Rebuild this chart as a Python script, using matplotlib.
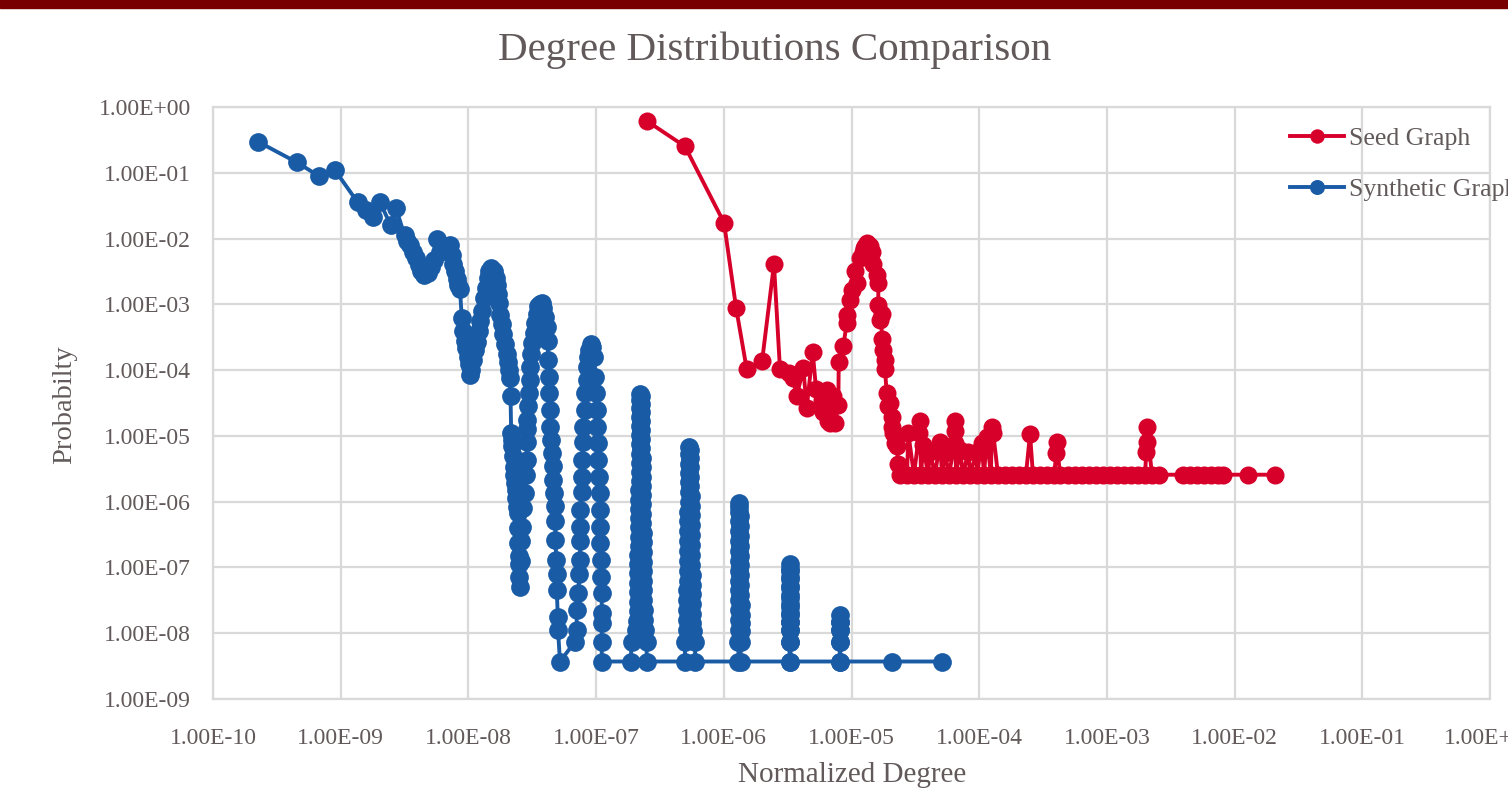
import numpy as np
import matplotlib
matplotlib.use("Agg")
import matplotlib.pyplot as plt
from matplotlib.ticker import FuncFormatter, NullLocator, FixedLocator
from matplotlib.patches import Rectangle

# ---------------- text ----------------
chart_title = "Degree Distributions Comparison"
x_label = "Normalized Degree"
y_label = "Probabilty"
series_names = ["Seed Graph", "Synthetic Graph"]
x_tick_exponents = list(range(-10, 1))   # 1.00E-10 ... 1.00E+00
y_tick_exponents = list(range(-9, 1))    # 1.00E-09 ... 1.00E+00

# ---------------- data (log10 of normalized degree, log10 of probability) ----------------
seed_head = [(-6.604, -0.21), (-6.304, -0.60), (-5.998, -1.76), (-5.904, -3.05),
             (-5.820, -3.99), (-5.700, -3.86), (-5.607, -2.39), (-5.560, -3.99)]

seed_middle = [(-5.487, -4.05), (-5.460, -4.12), (-5.429, -4.40), (-5.377, -3.97),
               (-5.351, -4.58), (-5.304, -3.72), (-5.278, -4.28), (-5.233, -4.45),
               (-5.221, -4.63), (-5.194, -4.30), (-5.182, -4.78), (-5.168, -4.81),
               (-5.143, -4.40), (-5.129, -4.80), (-5.103, -4.53), (-5.100, -3.87),
               (-5.064, -3.64), (-5.038, -3.29), (-5.035, -3.16), (-5.010, -2.93),
               (-4.999, -2.78)]

seed_peak = [(-4.973, -2.50), (-4.959, -2.68), (-4.933, -2.30), (-4.910, -2.20),
             (-4.900, -2.15), (-4.894, -2.12), (-4.881, -2.07), (-4.875, -2.09),
             (-4.870, -2.10), (-4.860, -2.15), (-4.855, -2.12), (-4.842, -2.20),
             (-4.829, -2.38), (-4.803, -2.55), (-4.790, -2.68), (-4.790, -3.01),
             (-4.777, -3.24), (-4.764, -3.14), (-4.764, -3.52), (-4.751, -3.69),
             (-4.738, -3.84), (-4.738, -3.99), (-4.724, -4.35), (-4.712, -4.55),
             (-4.699, -4.50), (-4.685, -4.71), (-4.685, -4.86), (-4.673, -4.96),
             (-4.659, -5.11), (-4.645, -5.16), (-4.634, -5.42)]

seed_tail = [(-4.620, -5.59), (-4.565, -5.59), (-4.555, -4.96), (-4.511, -5.59),
             (-4.470, -4.96), (-4.464, -4.78), (-4.456, -5.59), (-4.438, -5.14),
             (-4.401, -5.59), (-4.385, -5.24), (-4.346, -5.59), (-4.307, -5.09),
             (-4.291, -5.59), (-4.268, -5.26), (-4.237, -5.59), (-4.192, -5.11),
             (-4.190, -4.93), (-4.188, -4.78), (-4.182, -5.59), (-4.150, -5.21),
             (-4.127, -5.59), (-4.085, -5.24), (-4.072, -5.59), (-4.020, -5.24),
             (-4.017, -5.59), (-3.981, -5.11), (-3.962, -5.59), (-3.941, -5.01),
             (-3.908, -5.59), (-3.902, -4.86), (-3.890, -4.96), (-3.853, -5.59),
             (-3.798, -5.59), (-3.743, -5.59), (-3.688, -5.59), (-3.634, -5.59),
             (-3.602, -4.97), (-3.579, -5.59), (-3.524, -5.59), (-3.469, -5.59),
             (-3.414, -5.59), (-3.395, -5.26), (-3.393, -5.09), (-3.367, -5.59),
             (-3.305, -5.59), (-3.250, -5.59), (-3.195, -5.59), (-3.140, -5.59),
             (-3.085, -5.59), (-3.031, -5.59), (-2.976, -5.59), (-2.921, -5.59),
             (-2.866, -5.59), (-2.811, -5.59), (-2.756, -5.59), (-2.702, -5.59),
             (-2.691, -5.24), (-2.689, -5.09), (-2.687, -4.86), (-2.647, -5.59),
             (-2.592, -5.59), (-2.404, -5.59), (-2.349, -5.59), (-2.294, -5.59),
             (-2.240, -5.59), (-2.185, -5.59), (-2.130, -5.59), (-2.091, -5.59),
             (-1.895, -5.59), (-1.684, -5.59)]

synthetic_head = [(-9.645, -0.53), (-9.345, -0.84), (-9.170, -1.05), (-9.045, -0.96),
                  (-8.867, -1.45), (-8.804, -1.57), (-8.745, -1.67), (-8.692, -1.45),
                  (-8.610, -1.79), (-8.567, -1.54), (-8.500, -1.95), (-8.480, -2.03),
                  (-8.455, -2.10), (-8.430, -2.20), (-8.410, -2.30), (-8.390, -2.40),
                  (-8.370, -2.50), (-8.345, -2.55), (-8.320, -2.52), (-8.290, -2.43),
                  (-8.270, -2.33), (-8.248, -2.00), (-8.220, -2.20), (-8.200, -2.18),
                  (-8.170, -2.12), (-8.144, -2.10), (-8.130, -2.25), (-8.120, -2.38),
                  (-8.105, -2.50), (-8.090, -2.62), (-8.080, -2.70), (-8.066, -2.76),
                  (-8.052, -3.21), (-8.040, -3.41), (-8.028, -3.55), (-8.015, -3.66),
                  (-8.000, -3.80), (-7.993, -3.90), (-7.987, -4.07), (-7.980, -4.00),
                  (-7.965, -3.85), (-7.950, -3.70), (-7.935, -3.57), (-7.920, -3.40),
                  (-7.910, -3.26), (-7.895, -3.10), (-7.880, -2.91), (-7.865, -2.75),
                  (-7.850, -2.60), (-7.835, -2.50), (-7.820, -2.45), (-7.800, -2.50),
                  (-7.785, -2.60), (-7.775, -2.71), (-7.765, -2.85), (-7.757, -2.98),
                  (-7.750, -3.16), (-7.740, -3.30), (-7.730, -3.45), (-7.713, -3.60),
                  (-7.700, -3.75), (-7.690, -3.87), (-7.680, -4.00), (-7.675, -4.12),
                  (-7.670, -4.40), (-7.665, -4.96), (-7.660, -5.06), (-7.657, -5.16),
                  (-7.650, -5.30), (-7.645, -5.47), (-7.640, -5.60), (-7.635, -5.72),
                  (-7.630, -5.82), (-7.625, -5.95), (-7.620, -6.08), (-7.615, -6.17),
                  (-7.612, -6.40), (-7.610, -6.63), (-7.605, -6.83), (-7.603, -6.95),
                  (-7.600, -7.14), (-7.598, -7.29)]

synthetic_stack_1 = [(-7.590, -6.90), (-7.585, -6.60), (-7.580, -6.38), (-7.570, -6.10),
                     (-7.557, -5.87), (-7.550, -5.60), (-7.545, -5.37), (-7.542, -5.10),
                     (-7.540, -4.90), (-7.538, -4.76), (-7.533, -4.55), (-7.527, -4.35),
                     (-7.520, -4.15), (-7.514, -3.95), (-7.507, -3.75), (-7.500, -3.59),
                     (-7.490, -3.43), (-7.480, -3.29), (-7.465, -3.15), (-7.455, -3.03),
                     (-7.440, -2.99), (-7.426, -2.98), (-7.415, -3.05), (-7.400, -3.20),
                     (-7.387, -3.34), (-7.380, -3.55), (-7.374, -3.85), (-7.370, -4.10),
                     (-7.365, -4.35), (-7.362, -4.60), (-7.358, -4.86), (-7.352, -5.06),
                     (-7.348, -5.26), (-7.340, -5.46), (-7.335, -5.67), (-7.330, -5.87),
                     (-7.324, -6.07), (-7.320, -6.30), (-7.318, -6.58), (-7.312, -6.88),
                     (-7.310, -7.10), (-7.308, -7.34), (-7.300, -7.75), (-7.298, -7.95),
                     (-7.283, -8.43)]

synthetic_stack_2 = [(-7.165, -8.13), (-7.152, -7.95), (-7.152, -7.64), (-7.139, -7.39),
                     (-7.130, -7.10), (-7.126, -6.88), (-7.126, -6.60), (-7.126, -6.38),
                     (-7.126, -6.12), (-7.113, -5.85), (-7.113, -5.62), (-7.113, -5.37),
                     (-7.100, -5.10), (-7.100, -4.86), (-7.087, -4.60), (-7.087, -4.35),
                     (-7.074, -4.15), (-7.074, -3.95), (-7.061, -3.80), (-7.055, -3.69),
                     (-7.042, -3.60), (-7.030, -3.65), (-7.020, -3.80), (-7.009, -4.10),
                     (-7.000, -4.35), (-6.996, -4.60), (-6.990, -4.86), (-6.983, -5.11),
                     (-6.983, -5.37), (-6.980, -5.62), (-6.972, -5.87), (-6.970, -6.12),
                     (-6.968, -6.38), (-6.966, -6.63), (-6.960, -6.88), (-6.958, -7.14),
                     (-6.956, -7.39), (-6.956, -7.69), (-6.956, -7.84), (-6.956, -8.13),
                     (-6.956, -8.43)]

synthetic_stack_3 = [(-6.730, -8.43), (-6.721, -8.13), (-6.690, -7.95), (-6.676, -7.81),
                     (-6.674, -7.66), (-6.673, -7.52), (-6.672, -7.37), (-6.671, -7.23),
                     (-6.670, -7.09), (-6.669, -6.95), (-6.668, -6.81), (-6.667, -6.67),
                     (-6.666, -6.53), (-6.665, -6.39), (-6.664, -6.25), (-6.663, -6.11),
                     (-6.662, -5.97), (-6.661, -5.83), (-6.660, -5.69), (-6.660, -5.55),
                     (-6.659, -5.41), (-6.658, -5.27), (-6.658, -5.13), (-6.657, -4.99),
                     (-6.657, -4.85), (-6.656, -4.71), (-6.656, -4.58), (-6.656, -4.46),
                     (-6.655, -4.36), (-6.652, -4.40), (-6.650, -4.51), (-6.649, -4.63),
                     (-6.648, -4.77), (-6.647, -4.91), (-6.646, -5.05), (-6.645, -5.19),
                     (-6.644, -5.33), (-6.643, -5.47), (-6.642, -5.62), (-6.641, -5.76),
                     (-6.640, -5.90), (-6.639, -6.04), (-6.638, -6.19), (-6.637, -6.33),
                     (-6.636, -6.47), (-6.635, -6.62), (-6.634, -6.76), (-6.633, -6.91),
                     (-6.632, -7.05), (-6.631, -7.20), (-6.630, -7.34), (-6.629, -7.49),
                     (-6.628, -7.64), (-6.626, -7.80), (-6.620, -7.95), (-6.604, -8.13),
                     (-6.604, -8.43)]

synthetic_stack_4 = [(-6.304, -8.43), (-6.304, -8.13), (-6.292, -7.95), (-6.288, -7.80),
                     (-6.287, -7.65), (-6.286, -7.50), (-6.285, -7.35), (-6.284, -7.20),
                     (-6.283, -7.05), (-6.282, -6.90), (-6.281, -6.75), (-6.280, -6.60),
                     (-6.279, -6.45), (-6.278, -6.30), (-6.277, -6.15), (-6.276, -6.00),
                     (-6.275, -5.85), (-6.274, -5.70), (-6.273, -5.56), (-6.272, -5.42),
                     (-6.271, -5.28), (-6.270, -5.17), (-6.266, -5.22), (-6.264, -5.34),
                     (-6.263, -5.48), (-6.262, -5.62), (-6.261, -5.76), (-6.260, -5.91),
                     (-6.259, -6.06), (-6.258, -6.21), (-6.257, -6.36), (-6.256, -6.51),
                     (-6.255, -6.66), (-6.254, -6.81), (-6.253, -6.96), (-6.252, -7.11),
                     (-6.251, -7.26), (-6.250, -7.41), (-6.249, -7.56), (-6.248, -7.71),
                     (-6.246, -7.85), (-6.240, -7.97), (-6.225, -8.13), (-6.225, -8.43)]

synthetic_stack_5 = [(-5.885, -8.43), (-5.885, -8.13), (-5.884, -7.95), (-5.884, -7.80),
                     (-5.883, -7.65), (-5.883, -7.50), (-5.882, -7.35), (-5.882, -7.20),
                     (-5.881, -7.05), (-5.881, -6.90), (-5.880, -6.75), (-5.880, -6.60),
                     (-5.880, -6.45), (-5.879, -6.30), (-5.879, -6.15), (-5.879, -6.02),
                     (-5.878, -6.08), (-5.877, -6.22), (-5.876, -6.37), (-5.875, -6.52),
                     (-5.874, -6.67), (-5.873, -6.82), (-5.872, -6.97), (-5.871, -7.12),
                     (-5.870, -7.27), (-5.870, -7.42), (-5.869, -7.57), (-5.869, -7.72),
                     (-5.868, -7.85), (-5.868, -7.97), (-5.868, -8.13), (-5.868, -8.43)]

synthetic_stack_6 = [(-5.485, -8.43), (-5.485, -8.13), (-5.484, -7.95), (-5.484, -7.83),
                     (-5.483, -7.70), (-5.483, -7.56), (-5.482, -7.42), (-5.482, -7.28),
                     (-5.482, -7.14), (-5.482, -7.02), (-5.481, -6.95), (-5.481, -7.05),
                     (-5.480, -7.18), (-5.480, -7.32), (-5.480, -7.46), (-5.479, -7.60),
                     (-5.479, -7.73), (-5.479, -7.83), (-5.479, -7.95), (-5.478, -8.13),
                     (-5.478, -8.43)]

synthetic_stack_7 = [(-5.092, -8.43), (-5.092, -8.13), (-5.091, -7.95), (-5.091, -7.83),
                     (-5.090, -7.73), (-5.090, -7.83), (-5.089, -7.95), (-5.089, -8.13),
                     (-5.088, -8.43)]

synthetic_tail = [(-4.685, -8.43), (-4.294, -8.43)]


def to_values(*segments):
    pts = np.array([p for seg in segments for p in seg], dtype=float)
    return 10.0 ** pts[:, 0], 10.0 ** pts[:, 1]


seed_x, seed_y = to_values(seed_head, seed_middle, seed_peak, seed_tail)
syn_x, syn_y = to_values(synthetic_head, synthetic_stack_1, synthetic_stack_2,
                         synthetic_stack_3, synthetic_stack_4, synthetic_stack_5,
                         synthetic_stack_6, synthetic_stack_7, synthetic_tail)

# ---------------- style ----------------
RED = "#d7002b"
BLUE = "#1a5ba6"
TEXT = "#625a5a"
GRID = "#d9d9d9"
SERIF = ["Liberation Serif", "DejaVu Serif"]

W, H = 1508, 790
fig = plt.figure(figsize=(W / 100, H / 100), dpi=100)
fig.patch.set_facecolor("white")
fig.patches.append(Rectangle((0, 1 - 8 / H), 1, 8 / H, transform=fig.transFigure,
                             color="#780000", zorder=5))

ax = fig.add_axes([213 / W, 1 - 699 / H, (1490 - 213) / W, (699 - 107) / H])
ax.set_xscale("log")
ax.set_yscale("log")
ax.set_xlim(1e-10, 1e0)
ax.set_ylim(1e-9, 1e0)

ax.plot(seed_x, seed_y, "-o", color=RED, lw=2.8, ms=13, mew=0, label=series_names[0],
        zorder=3)
ax.plot(syn_x, syn_y, "-o", color=BLUE, lw=2.8, ms=13.5, mew=0, label=series_names[1],
        zorder=3)

fmt = FuncFormatter(lambda v, p: f"{v:.2E}")
ax.xaxis.set_major_locator(FixedLocator([10.0 ** e for e in x_tick_exponents]))
ax.yaxis.set_major_locator(FixedLocator([10.0 ** e for e in y_tick_exponents]))
ax.xaxis.set_minor_locator(NullLocator())
ax.yaxis.set_minor_locator(NullLocator())
ax.xaxis.set_major_formatter(fmt)
ax.yaxis.set_major_formatter(fmt)
ax.tick_params(axis="both", length=0, labelsize=17, labelcolor=TEXT)
ax.tick_params(axis="x", pad=21)
ax.tick_params(axis="y", pad=16)
for lab in ax.get_xticklabels() + ax.get_yticklabels():
    lab.set_family(SERIF)

ax.grid(True, which="major", color=GRID, lw=1.6)
ax.set_axisbelow(True)
for s in ax.spines.values():
    s.set_color(GRID)
    s.set_linewidth(1.6)

fig.text(775 / W, 1 - 50 / H, chart_title, ha="center", va="center",
         fontsize=29.5, color=TEXT, family=SERIF)
fig.text(852 / W, 1 - 775 / H, x_label, ha="center", va="center",
         fontsize=21, color=TEXT, family=SERIF)
fig.text(65 / W, 1 - 405 / H, y_label, ha="center", va="center", rotation=90,
         fontsize=20.5, color=TEXT, family=SERIF)

leg = ax.legend(loc="upper left", bbox_to_anchor=(1290 / W, 1 - 127 / H),
                bbox_transform=fig.transFigure, frameon=False, fontsize=18.5,
                handlelength=2.1, handletextpad=0.2, labelspacing=1.1,
                borderpad=0, borderaxespad=0, markerscale=0.8)
for t in leg.get_texts():
    t.set_color(TEXT)
    t.set_family(SERIF)

fig.savefig("out.png", dpi=100)
